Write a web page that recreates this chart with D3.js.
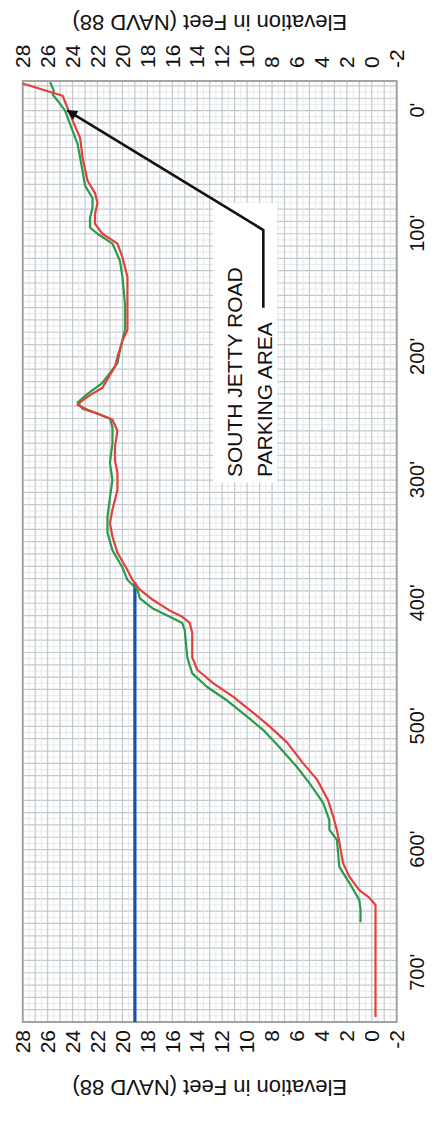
<!DOCTYPE html>
<html>
<head>
<meta charset="utf-8">
<script src="https://cdn.jsdelivr.net/npm/d3@7"></script>
<style>
  html, body { margin: 0; padding: 0; background: #fff; }
  svg { display: block; }
  .tick text { fill: #111; }
</style>
</head>
<body>
<div class="profile"></div>
<script>
// --- chart values (distance in feet, elevation in feet NAVD 88)
const elevTicks = [28, 26, 24, 22, 20, 18, 16, 14, 12, 10, 8, 6, 4, 2, 0, -2];
const distTicks = [0, 100, 200, 300, 400, 500, 600, 700];

const redDist = [-22, -12, -2, 8, 22, 38, 57, 67, 75, 84, 92, 100, 108, 119, 135, 157, 178, 187, 200, 208, 225, 231, 237, 239, 243, 247, 251, 260, 273, 284, 294, 308, 324, 335, 346, 359, 373, 381, 389, 397, 406, 411, 416, 424, 444, 454, 465, 476, 489, 500, 513, 530, 543, 560, 573, 584, 594, 600, 611, 622, 633, 639, 645, 736];
const redElev = [28.0, 24.8, 24.4, 24.0, 23.4, 23.2, 22.8, 22.2, 22.0, 22.2, 22.2, 21.6, 20.4, 20.0, 19.6, 19.6, 19.6, 20.0, 20.4, 20.6, 21.6, 22.6, 23.4, 23.6, 22.8, 21.8, 20.8, 20.4, 20.6, 20.6, 20.4, 20.4, 20.8, 21.0, 20.8, 20.4, 19.6, 19.2, 18.6, 17.6, 16.2, 15.2, 14.6, 14.4, 14.4, 14.0, 12.7, 11.1, 9.5, 8.2, 6.8, 5.5, 4.4, 3.5, 3.1, 2.8, 2.6, 2.5, 2.3, 1.8, 1.0, 0.2, -0.3, -0.3];

const greenDist = [-23, -16, -13, -8, 0, 11, 27, 49, 61, 71, 79, 87, 95, 100, 108, 122, 135, 157, 178, 195, 205, 221, 230, 237, 242, 246, 250, 257, 270, 286, 300, 314, 330, 343, 357, 371, 381, 389, 396, 404, 411, 416, 422, 444, 457, 468, 479, 492, 503, 517, 533, 546, 562, 576, 584, 592, 614, 627, 641, 649, 659];
const greenElev = [25.8, 25.5, 25.6, 25.2, 24.6, 24.2, 23.6, 23.2, 23.0, 22.4, 22.4, 22.6, 22.6, 22.0, 20.8, 20.2, 20.0, 19.8, 19.8, 20.2, 20.4, 21.6, 22.8, 23.6, 23.2, 22.0, 21.0, 20.8, 20.8, 21.0, 20.8, 21.0, 21.2, 21.2, 20.8, 20.0, 19.6, 18.8, 18.6, 17.6, 16.2, 15.2, 15.0, 14.8, 14.4, 13.2, 11.6, 10.0, 8.7, 7.4, 6.0, 5.0, 3.9, 3.4, 3.4, 2.8, 2.6, 1.8, 1.0, 0.9, 0.9];

const blueDist = [383, 740];
const blueElev = [19, 19];

const noteText = ["SOUTH JETTY ROAD", "PARKING AREA"];
const noteLeaderDist = [0, 97, 160];
const noteLeaderElev = [24.4, 8.7, 8.7];

// --- page is a landscape chart turned a quarter turn
const W = 1121, H = 434;
const plot = {left: 99, right: 1040, top: 22.7, bottom: 396.7};
const sans = "'Liberation Sans', Arial, sans-serif";

const svg = d3.select(".profile").append("svg")
    .attr("width", H)
    .attr("height", W);

const g = svg.append("g")
    .attr("transform", "translate(0," + W + ") rotate(-90)");

const x = d3.scaleLinear().domain([-24, 740]).range([plot.right, plot.left]);
const y = d3.scaleLinear().domain([28, -2]).range([plot.top, plot.bottom]);

// GRID
const grid = g.append("g").attr("class", "grid");
grid.selectAll(".gx")
    .data(d3.range(-20, 741, 5))
    .enter().append("line")
    .attr("x1", d => x(d)).attr("x2", d => x(d))
    .attr("y1", plot.top).attr("y2", plot.bottom)
    .attr("stroke", d => d % 10 === 0 ? "#c2c8cc" : "#e1e5e7")
    .attr("stroke-width", d => d % 10 === 0 ? 1.2 : 0.8);

grid.selectAll(".gy")
    .data(d3.range(-2, 28.01, 0.5))
    .enter().append("line")
    .attr("x1", plot.left).attr("x2", plot.right)
    .attr("y1", d => y(d)).attr("y2", d => y(d))
    .attr("stroke", d => d % 1 === 0 ? "#c2c8cc" : "#e1e5e7")
    .attr("stroke-width", d => d % 1 === 0 ? 1.2 : 0.8);

// white box behind note
g.append("rect")
    .attr("x", x(302)).attr("y", y(12.7))
    .attr("width", x(75) - x(302)).attr("height", y(7.6) - y(12.7))
    .attr("fill", "#fff");

// frame
g.append("rect")
    .attr("x", plot.left).attr("y", plot.top)
    .attr("width", plot.right - plot.left).attr("height", plot.bottom - plot.top)
    .attr("fill", "none").attr("stroke", "#9c9c9c").attr("stroke-width", 1.8);

// AXES
const leftAxis = g.append("g")
    .attr("transform", "translate(" + plot.left + ",0)")
    .call(d3.axisLeft(y).tickValues(elevTicks).tickSize(0).tickPadding(8).tickFormat(d => String(d)));
const rightAxis = g.append("g")
    .attr("transform", "translate(" + plot.right + ",0)")
    .call(d3.axisRight(y).tickValues(elevTicks).tickSize(0).tickPadding(13).tickFormat(d => String(d)));
[leftAxis, rightAxis].forEach(a => {
    a.select(".domain").remove();
    a.selectAll("text")
        .style("font-family", sans)
        .style("font-size", "21px");
});

const bottomAxis = g.append("g")
    .attr("transform", "translate(0," + plot.bottom + ")")
    .call(d3.axisBottom(x).tickValues(distTicks).tickSize(0).tickPadding(13)
        .tickFormat(d => d + "'"));
bottomAxis.select(".domain").remove();
bottomAxis.selectAll("text")
    .style("font-family", sans)
    .style("font-size", "20px");

// titles
[41, 1106].forEach(u => {
    g.append("text")
        .attr("transform", "translate(" + u + "," + ((plot.top + plot.bottom) / 2) + ") rotate(-90)")
        .attr("text-anchor", "middle")
        .style("font-family", sans)
        .style("font-size", "22px")
        .attr("fill", "#111")
        .text("Elevation in Feet (NAVD 88)");
});

// PROFILES
const line = d3.line().x(d => x(d[0])).y(d => y(d[1]));

g.append("path")
    .datum(blueDist.map((d, i) => [d, blueElev[i]]))
    .attr("d", line)
    .attr("fill", "none").attr("stroke", "#1450ac").attr("stroke-width", 3.2);

g.append("path")
    .datum(greenDist.map((d, i) => [d, greenElev[i]]))
    .attr("d", line)
    .attr("fill", "none").attr("stroke", "#2b9a4c").attr("stroke-width", 2.2)
    .attr("stroke-linejoin", "round");

g.append("path")
    .datum(redDist.map((d, i) => [d, redElev[i]]))
    .attr("d", line)
    .attr("fill", "none").attr("stroke", "#e4403b").attr("stroke-width", 2.2)
    .attr("stroke-linejoin", "round");

// NOTE + LEADER
svg.append("defs").append("marker")
    .attr("id", "arrow")
    .attr("viewBox", "0 0 10 10")
    .attr("refX", 9).attr("refY", 5)
    .attr("markerWidth", 5).attr("markerHeight", 4)
    .attr("orient", "auto")
    .append("path").attr("d", "M0,0L10,5L0,10z").attr("fill", "#111");

g.append("path")
    .datum(noteLeaderDist.map((d, i) => [d, noteLeaderElev[i]]).reverse())
    .attr("d", line)
    .attr("fill", "none").attr("stroke", "#111").attr("stroke-width", 2.6)
    .attr("marker-end", "url(#arrow)");

const note = g.append("text")
    .attr("x", x(297.5))
    .attr("y", y(10.4))
    .style("font-family", sans)
    .style("font-size", "21px")
    .attr("fill", "#111");
note.selectAll("tspan")
    .data(noteText)
    .enter().append("tspan")
    .attr("x", x(297.5))
    .attr("dy", (d, i) => i === 0 ? 0 : 30)
    .text(d => d);
</script>
</body>
</html>
